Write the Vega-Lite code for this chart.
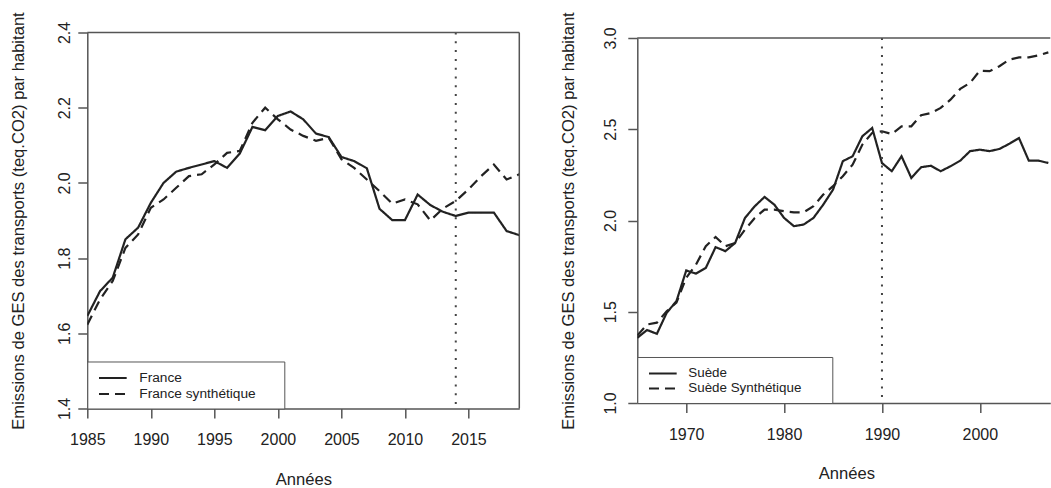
{
  "$schema": "https://vega.github.io/schema/vega-lite/v6.json",
  "background": "white",
  "padding": {"left": 10.3, "top": 11.5, "right": 0, "bottom": 0},
  "bounds": "flush",
  "center": true,
  "spacing": 118,
  "resolve": {"scale": {"strokeDash": "independent"}, "legend": {"strokeDash": "independent"}},
  "config": {
    "font": "Liberation Sans",
    "view": {"stroke": null},
    "axis": {
      "grid": false,
      "domainColor": "#555",
      "domainWidth": 1.5,
      "tickColor": "#555",
      "tickWidth": 1.5,
      "tickSize": 9.5,
      "labelFont": "Liberation Sans",
      "labelFontSize": 16,
      "labelColor": "#222",
      "labelOverlap": false,
      "labelFlush": false,
      "titleFont": "Liberation Sans",
      "titleFontSize": 16.6,
      "titleFontWeight": "normal",
      "titleColor": "#222"
    },
    "legend": {
      "labelFont": "Liberation Sans",
      "labelColor": "#222",
      "titleFont": "Liberation Sans",
      "titleFontSize": 13,
      "titleFontWeight": "normal",
      "titleColor": "#222"
    }
  },
  "datasets": {
    "france": [
      {"annee": 1985, "serie": "France", "valeur": 1.646},
      {"annee": 1986, "serie": "France", "valeur": 1.712},
      {"annee": 1987, "serie": "France", "valeur": 1.748},
      {"annee": 1988, "serie": "France", "valeur": 1.85},
      {"annee": 1989, "serie": "France", "valeur": 1.881},
      {"annee": 1990, "serie": "France", "valeur": 1.947},
      {"annee": 1991, "serie": "France", "valeur": 2.0},
      {"annee": 1992, "serie": "France", "valeur": 2.03},
      {"annee": 1993, "serie": "France", "valeur": 2.04},
      {"annee": 1994, "serie": "France", "valeur": 2.049},
      {"annee": 1995, "serie": "France", "valeur": 2.058},
      {"annee": 1996, "serie": "France", "valeur": 2.04},
      {"annee": 1997, "serie": "France", "valeur": 2.078},
      {"annee": 1998, "serie": "France", "valeur": 2.149},
      {"annee": 1999, "serie": "France", "valeur": 2.14},
      {"annee": 2000, "serie": "France", "valeur": 2.178},
      {"annee": 2001, "serie": "France", "valeur": 2.19},
      {"annee": 2002, "serie": "France", "valeur": 2.169},
      {"annee": 2003, "serie": "France", "valeur": 2.131},
      {"annee": 2004, "serie": "France", "valeur": 2.122},
      {"annee": 2005, "serie": "France", "valeur": 2.069},
      {"annee": 2006, "serie": "France", "valeur": 2.058},
      {"annee": 2007, "serie": "France", "valeur": 2.039},
      {"annee": 2008, "serie": "France", "valeur": 1.931},
      {"annee": 2009, "serie": "France", "valeur": 1.901},
      {"annee": 2010, "serie": "France", "valeur": 1.901},
      {"annee": 2011, "serie": "France", "valeur": 1.969},
      {"annee": 2012, "serie": "France", "valeur": 1.941},
      {"annee": 2013, "serie": "France", "valeur": 1.923},
      {"annee": 2014, "serie": "France", "valeur": 1.912},
      {"annee": 2015, "serie": "France", "valeur": 1.921},
      {"annee": 2016, "serie": "France", "valeur": 1.921},
      {"annee": 2017, "serie": "France", "valeur": 1.921},
      {"annee": 2018, "serie": "France", "valeur": 1.872},
      {"annee": 2019, "serie": "France", "valeur": 1.861},
      {"annee": 1985, "serie": "France synthétique", "valeur": 1.623},
      {"annee": 1986, "serie": "France synthétique", "valeur": 1.69},
      {"annee": 1987, "serie": "France synthétique", "valeur": 1.739},
      {"annee": 1988, "serie": "France synthétique", "valeur": 1.827},
      {"annee": 1989, "serie": "France synthétique", "valeur": 1.863},
      {"annee": 1990, "serie": "France synthétique", "valeur": 1.934},
      {"annee": 1991, "serie": "France synthétique", "valeur": 1.956},
      {"annee": 1992, "serie": "France synthétique", "valeur": 1.987},
      {"annee": 1993, "serie": "France synthétique", "valeur": 2.018},
      {"annee": 1994, "serie": "France synthétique", "valeur": 2.023},
      {"annee": 1995, "serie": "France synthétique", "valeur": 2.049},
      {"annee": 1996, "serie": "France synthétique", "valeur": 2.08},
      {"annee": 1997, "serie": "France synthétique", "valeur": 2.085},
      {"annee": 1998, "serie": "France synthétique", "valeur": 2.16},
      {"annee": 1999, "serie": "France synthétique", "valeur": 2.2},
      {"annee": 2000, "serie": "France synthétique", "valeur": 2.169},
      {"annee": 2001, "serie": "France synthétique", "valeur": 2.142},
      {"annee": 2002, "serie": "France synthétique", "valeur": 2.125},
      {"annee": 2003, "serie": "France synthétique", "valeur": 2.112},
      {"annee": 2004, "serie": "France synthétique", "valeur": 2.12},
      {"annee": 2005, "serie": "France synthétique", "valeur": 2.063},
      {"annee": 2006, "serie": "France synthétique", "valeur": 2.04},
      {"annee": 2007, "serie": "France synthétique", "valeur": 2.009},
      {"annee": 2008, "serie": "France synthétique", "valeur": 1.978},
      {"annee": 2009, "serie": "France synthétique", "valeur": 1.945},
      {"annee": 2010, "serie": "France synthétique", "valeur": 1.956},
      {"annee": 2011, "serie": "France synthétique", "valeur": 1.943},
      {"annee": 2012, "serie": "France synthétique", "valeur": 1.9},
      {"annee": 2013, "serie": "France synthétique", "valeur": 1.932},
      {"annee": 2014, "serie": "France synthétique", "valeur": 1.952},
      {"annee": 2015, "serie": "France synthétique", "valeur": 1.983},
      {"annee": 2016, "serie": "France synthétique", "valeur": 2.018},
      {"annee": 2017, "serie": "France synthétique", "valeur": 2.049},
      {"annee": 2018, "serie": "France synthétique", "valeur": 2.009},
      {"annee": 2019, "serie": "France synthétique", "valeur": 2.023}
    ],
    "suede": [
      {"annee": 1965, "serie": "Suède", "valeur": 1.357},
      {"annee": 1966, "serie": "Suède", "valeur": 1.4},
      {"annee": 1967, "serie": "Suède", "valeur": 1.379},
      {"annee": 1968, "serie": "Suède", "valeur": 1.494},
      {"annee": 1969, "serie": "Suède", "valeur": 1.558},
      {"annee": 1970, "serie": "Suède", "valeur": 1.726},
      {"annee": 1971, "serie": "Suède", "valeur": 1.709},
      {"annee": 1972, "serie": "Suède", "valeur": 1.74},
      {"annee": 1973, "serie": "Suède", "valeur": 1.854},
      {"annee": 1974, "serie": "Suède", "valeur": 1.832},
      {"annee": 1975, "serie": "Suède", "valeur": 1.877},
      {"annee": 1976, "serie": "Suède", "valeur": 2.014},
      {"annee": 1977, "serie": "Suède", "valeur": 2.078},
      {"annee": 1978, "serie": "Suède", "valeur": 2.129},
      {"annee": 1979, "serie": "Suède", "valeur": 2.087},
      {"annee": 1980, "serie": "Suède", "valeur": 2.014},
      {"annee": 1981, "serie": "Suède", "valeur": 1.969},
      {"annee": 1982, "serie": "Suède", "valeur": 1.978},
      {"annee": 1983, "serie": "Suède", "valeur": 2.014},
      {"annee": 1984, "serie": "Suède", "valeur": 2.087},
      {"annee": 1985, "serie": "Suède", "valeur": 2.169},
      {"annee": 1986, "serie": "Suède", "valeur": 2.325},
      {"annee": 1987, "serie": "Suède", "valeur": 2.352},
      {"annee": 1988, "serie": "Suède", "valeur": 2.462},
      {"annee": 1989, "serie": "Suède", "valeur": 2.507},
      {"annee": 1990, "serie": "Suède", "valeur": 2.315},
      {"annee": 1991, "serie": "Suède", "valeur": 2.27},
      {"annee": 1992, "serie": "Suède", "valeur": 2.352},
      {"annee": 1993, "serie": "Suède", "valeur": 2.233},
      {"annee": 1994, "serie": "Suède", "valeur": 2.292},
      {"annee": 1995, "serie": "Suède", "valeur": 2.3},
      {"annee": 1996, "serie": "Suède", "valeur": 2.27},
      {"annee": 1997, "serie": "Suède", "valeur": 2.297},
      {"annee": 1998, "serie": "Suède", "valeur": 2.328},
      {"annee": 1999, "serie": "Suède", "valeur": 2.38},
      {"annee": 2000, "serie": "Suède", "valeur": 2.388},
      {"annee": 2001, "serie": "Suède", "valeur": 2.38},
      {"annee": 2002, "serie": "Suède", "valeur": 2.392},
      {"annee": 2003, "serie": "Suède", "valeur": 2.42},
      {"annee": 2004, "serie": "Suède", "valeur": 2.452},
      {"annee": 2005, "serie": "Suède", "valeur": 2.328},
      {"annee": 2006, "serie": "Suède", "valeur": 2.328},
      {"annee": 2007, "serie": "Suède", "valeur": 2.315},
      {"annee": 1965, "serie": "Suède Synthétique", "valeur": 1.37},
      {"annee": 1966, "serie": "Suède Synthétique", "valeur": 1.43},
      {"annee": 1967, "serie": "Suède Synthétique", "valeur": 1.44},
      {"annee": 1968, "serie": "Suède Synthétique", "valeur": 1.503},
      {"annee": 1969, "serie": "Suède Synthétique", "valeur": 1.55},
      {"annee": 1970, "serie": "Suède Synthétique", "valeur": 1.686},
      {"annee": 1971, "serie": "Suède Synthétique", "valeur": 1.759},
      {"annee": 1972, "serie": "Suède Synthétique", "valeur": 1.859},
      {"annee": 1973, "serie": "Suède Synthétique", "valeur": 1.91},
      {"annee": 1974, "serie": "Suède Synthétique", "valeur": 1.859},
      {"annee": 1975, "serie": "Suède Synthétique", "valeur": 1.877},
      {"annee": 1976, "serie": "Suède Synthétique", "valeur": 1.95},
      {"annee": 1977, "serie": "Suède Synthétique", "valeur": 2.014},
      {"annee": 1978, "serie": "Suède Synthétique", "valeur": 2.06},
      {"annee": 1979, "serie": "Suède Synthétique", "valeur": 2.06},
      {"annee": 1980, "serie": "Suède Synthétique", "valeur": 2.051},
      {"annee": 1981, "serie": "Suède Synthétique", "valeur": 2.045},
      {"annee": 1982, "serie": "Suède Synthétique", "valeur": 2.045},
      {"annee": 1983, "serie": "Suède Synthétique", "valeur": 2.078},
      {"annee": 1984, "serie": "Suède Synthétique", "valeur": 2.142},
      {"annee": 1985, "serie": "Suède Synthétique", "valeur": 2.188},
      {"annee": 1986, "serie": "Suède Synthétique", "valeur": 2.243},
      {"annee": 1987, "serie": "Suède Synthétique", "valeur": 2.306},
      {"annee": 1988, "serie": "Suède Synthétique", "valeur": 2.416},
      {"annee": 1989, "serie": "Suède Synthétique", "valeur": 2.48},
      {"annee": 1990, "serie": "Suède Synthétique", "valeur": 2.489},
      {"annee": 1991, "serie": "Suède Synthétique", "valeur": 2.474},
      {"annee": 1992, "serie": "Suède Synthétique", "valeur": 2.516},
      {"annee": 1993, "serie": "Suède Synthétique", "valeur": 2.516},
      {"annee": 1994, "serie": "Suède Synthétique", "valeur": 2.577},
      {"annee": 1995, "serie": "Suède Synthétique", "valeur": 2.589},
      {"annee": 1996, "serie": "Suède Synthétique", "valeur": 2.617},
      {"annee": 1997, "serie": "Suède Synthétique", "valeur": 2.662},
      {"annee": 1998, "serie": "Suède Synthétique", "valeur": 2.721},
      {"annee": 1999, "serie": "Suède Synthétique", "valeur": 2.754},
      {"annee": 2000, "serie": "Suède Synthétique", "valeur": 2.821},
      {"annee": 2001, "serie": "Suède Synthétique", "valeur": 2.818},
      {"annee": 2002, "serie": "Suède Synthétique", "valeur": 2.845},
      {"annee": 2003, "serie": "Suède Synthétique", "valeur": 2.881},
      {"annee": 2004, "serie": "Suède Synthétique", "valeur": 2.894},
      {"annee": 2005, "serie": "Suède Synthétique", "valeur": 2.894},
      {"annee": 2006, "serie": "Suède Synthétique", "valeur": 2.905},
      {"annee": 2007, "serie": "Suède Synthétique", "valeur": 2.921}
    ]
  },
  "hconcat": [
    {
      "width": 432,
      "height": 376,
      "layer": [
        {
          "data": {"name": "france"},
          "mark": {"type": "line", "color": "#222", "strokeWidth": 2.2, "clip": true},
          "encoding": {
            "x": {
              "field": "annee",
              "type": "quantitative",
              "title": "Années",
              "scale": {"domain": [1985, 2019], "nice": false, "zero": false},
              "axis": {
                "values": [1985, 1990, 1995, 2000, 2005, 2010, 2015],
                "format": "d",
                "labelAngle": 0,
                "labelPadding": 14,
                "titlePadding": 23.3
              }
            },
            "y": {
              "field": "valeur",
              "type": "quantitative",
              "title": "Emissions de GES des transports (teq.CO2) par habitant",
              "scale": {"domain": [1.4, 2.4], "nice": false, "zero": false},
              "axis": {
                "values": [1.4, 1.6, 1.8, 2.0, 2.2, 2.4],
                "format": ".1f",
                "labelAngle": -90,
                "labelAlign": "center",
                "labelBaseline": "bottom",
                "labelPadding": 5,
                "titlePadding": 30
              }
            },
            "strokeDash": {
              "field": "serie",
              "type": "nominal",
              "scale": {"domain": ["France", "France synthétique"], "range": [[1, 0], [10, 6]]},
              "legend": {
                "title": "\u00a0",
                "titleOrient": "right",
                "titlePadding": 20.5,
                "orient": "bottom-left",
                "offset": 0,
                "padding": 7.5,
                "rowPadding": 0,
                "strokeColor": "#555",
                "fillColor": "white",
                "symbolType": "M-0.6,0L2.86,0",
                "symbolSize": 256,
                "symbolStrokeWidth": 2,
                "symbolStrokeColor": "#222",
                "labelFontSize": 13.7,
                "labelOffset": 26.5
              }
            }
          }
        },
        {
          "data": {"values": [{"annee": 2014}]},
          "mark": {"type": "rule", "color": "#444", "strokeWidth": 2, "strokeDash": [2, 6.8]},
          "encoding": {"x": {"field": "annee", "type": "quantitative", "title": "Années"}}
        },
        {
          "data": {"values": [{"valeur": 2.4}]},
          "mark": {"type": "rule", "color": "#555", "strokeWidth": 1.5},
          "encoding": {"y": {"field": "valeur", "type": "quantitative", "title": "Emissions de GES des transports (teq.CO2) par habitant"}}
        },
        {
          "data": {"values": [{"annee": 2019}]},
          "mark": {"type": "rule", "color": "#555", "strokeWidth": 1.5},
          "encoding": {"x": {"field": "annee", "type": "quantitative", "title": "Années"}}
        }
      ]
    },
    {
      "width": 413,
      "height": 365,
      "layer": [
        {
          "data": {"name": "suede"},
          "mark": {"type": "line", "color": "#222", "strokeWidth": 2.2, "clip": true},
          "encoding": {
            "x": {
              "field": "annee",
              "type": "quantitative",
              "title": "Années",
              "scale": {"domain": [1965, 2007.2], "nice": false, "zero": false},
              "axis": {
                "values": [1970, 1980, 1990, 2000],
                "format": "d",
                "labelAngle": 0,
                "labelPadding": 14,
                "titlePadding": 23,
                "titleX": 209
              }
            },
            "y": {
              "field": "valeur",
              "type": "quantitative",
              "title": "Emissions de GES des transports (teq.CO2) par habitant",
              "scale": {"domain": [1.0, 3.0], "nice": false, "zero": false},
              "axis": {
                "values": [1.0, 1.5, 2.0, 2.5, 3.0],
                "format": ".1f",
                "labelAngle": -90,
                "labelAlign": "center",
                "labelBaseline": "bottom",
                "labelPadding": 9.5,
                "titlePadding": 26
              }
            },
            "strokeDash": {
              "field": "serie",
              "type": "nominal",
              "scale": {"domain": ["Suède", "Suède Synthétique"], "range": [[1, 0], [10, 6]]},
              "legend": {
                "title": "\u00a0",
                "titleOrient": "right",
                "titlePadding": 23,
                "orient": "bottom-left",
                "offset": 0,
                "padding": 8,
                "rowPadding": 0,
                "strokeColor": "#555",
                "fillColor": "white",
                "symbolType": "M-0.64,0L3.05,0",
                "symbolSize": 225,
                "symbolStrokeWidth": 2,
                "symbolStrokeColor": "#222",
                "labelFontSize": 13.4,
                "labelOffset": 26
              }
            }
          }
        },
        {
          "data": {"values": [{"annee": 1990}]},
          "mark": {"type": "rule", "color": "#444", "strokeWidth": 2, "strokeDash": [2, 6.5]},
          "encoding": {"x": {"field": "annee", "type": "quantitative", "title": "Années"}}
        },
        {
          "data": {"values": [{"valeur": 3.0}]},
          "mark": {"type": "rule", "color": "#555", "strokeWidth": 1.5},
          "encoding": {"y": {"field": "valeur", "type": "quantitative", "title": "Emissions de GES des transports (teq.CO2) par habitant"}}
        }
      ]
    }
  ]
}
